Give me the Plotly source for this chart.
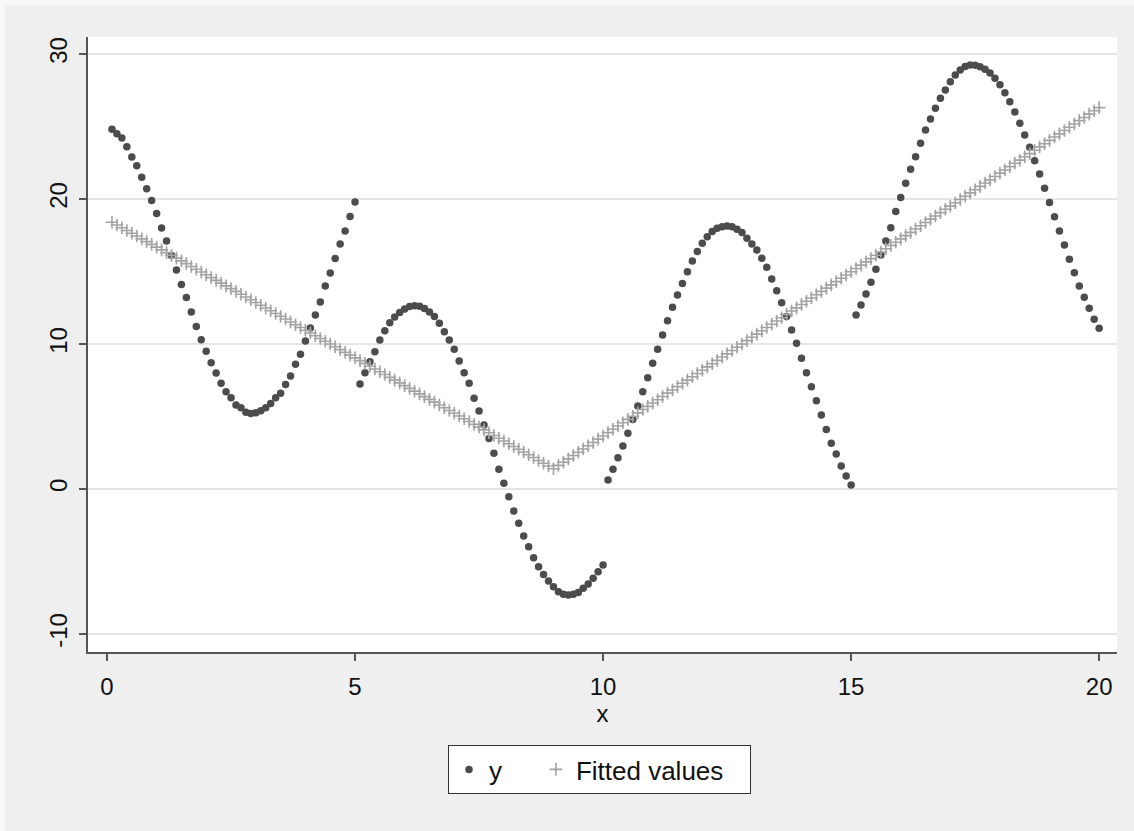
import plotly.graph_objects as go

# ---- data ----
x_values = [
    0.1, 0.2, 0.3, 0.4, 0.5, 0.6, 0.7, 0.8, 0.9, 1.0,
    1.1, 1.2, 1.3, 1.4, 1.5, 1.6, 1.7, 1.8, 1.9, 2.0,
    2.1, 2.2, 2.3, 2.4, 2.5, 2.6, 2.7, 2.8, 2.9, 3.0,
    3.1, 3.2, 3.3, 3.4, 3.5, 3.6, 3.7, 3.8, 3.9, 4.0,
    4.1, 4.2, 4.3, 4.4, 4.5, 4.6, 4.7, 4.8, 4.9, 5.0,
    5.1, 5.2, 5.3, 5.4, 5.5, 5.6, 5.7, 5.8, 5.9, 6.0,
    6.1, 6.2, 6.3, 6.4, 6.5, 6.6, 6.7, 6.8, 6.9, 7.0,
    7.1, 7.2, 7.3, 7.4, 7.5, 7.6, 7.7, 7.8, 7.9, 8.0,
    8.1, 8.2, 8.3, 8.4, 8.5, 8.6, 8.7, 8.8, 8.9, 9.0,
    9.1, 9.2, 9.3, 9.4, 9.5, 9.6, 9.7, 9.8, 9.9, 10.0,
    10.1, 10.2, 10.3, 10.4, 10.5, 10.6, 10.7, 10.8, 10.9, 11.0,
    11.1, 11.2, 11.3, 11.4, 11.5, 11.6, 11.7, 11.8, 11.9, 12.0,
    12.1, 12.2, 12.3, 12.4, 12.5, 12.6, 12.7, 12.8, 12.9, 13.0,
    13.1, 13.2, 13.3, 13.4, 13.5, 13.6, 13.7, 13.8, 13.9, 14.0,
    14.1, 14.2, 14.3, 14.4, 14.5, 14.6, 14.7, 14.8, 14.9, 15.0,
    15.1, 15.2, 15.3, 15.4, 15.5, 15.6, 15.7, 15.8, 15.9, 16.0,
    16.1, 16.2, 16.3, 16.4, 16.5, 16.6, 16.7, 16.8, 16.9, 17.0,
    17.1, 17.2, 17.3, 17.4, 17.5, 17.6, 17.7, 17.8, 17.9, 18.0,
    18.1, 18.2, 18.3, 18.4, 18.5, 18.6, 18.7, 18.8, 18.9, 19.0,
    19.1, 19.2, 19.3, 19.4, 19.5, 19.6, 19.7, 19.8, 19.9, 20.0,
]

y_part1 = [
    24.8, 24.5, 24.2, 23.6, 22.9, 22.3, 21.5, 20.7, 19.9, 19.0,
    18.0, 17.1, 16.1, 15.1, 14.1, 13.2, 12.2, 11.2, 10.3, 9.5,
    8.7, 8.0, 7.3, 6.7, 6.3, 5.8, 5.6, 5.3, 5.2, 5.25,
    5.4, 5.6, 5.9, 6.3, 6.6, 7.2, 7.8, 8.6, 9.3, 10.2,
    11.1, 12.0, 12.9, 14.0, 14.9, 15.9, 16.9, 17.8, 18.8, 19.8,
]
y_part2 = [
    7.24, 8.02, 8.78, 9.47, 10.28, 10.92, 11.47, 11.86, 12.17, 12.42,
    12.58, 12.64, 12.60, 12.45, 12.20, 11.89, 11.43, 10.85, 10.28, 9.63,
    8.83, 8.02, 7.29, 6.25, 5.38, 4.41, 3.49, 2.46, 1.36, 0.39,
    -0.53, -1.52, -2.37, -3.24, -3.98, -4.74, -5.36, -5.89, -6.34, -6.74,
    -7.08, -7.26, -7.31, -7.26, -7.13, -6.85, -6.55, -6.16, -5.70, -5.24,
]
y_part3 = [
    0.62, 1.36, 2.16, 2.97, 3.84, 4.80, 5.72, 6.71, 7.68, 8.67,
    9.63, 10.62, 11.61, 12.53, 13.38, 14.18, 14.99, 15.72, 16.37, 16.94,
    17.40, 17.75, 17.98, 18.09, 18.14, 18.09, 17.91, 17.68, 17.29, 16.90,
    16.48, 15.91, 15.29, 14.48, 13.68, 12.85, 11.89, 10.97, 10.05, 9.01,
    8.02, 7.06, 6.09, 5.10, 4.11, 3.15, 2.41, 1.59, 0.90, 0.28,
]
y_part4 = [
    12.00, 12.69, 13.45, 14.25, 15.15, 16.14, 17.10, 18.02, 19.13, 20.11,
    21.08, 22.05, 22.92, 23.84, 24.76, 25.52, 26.25, 26.94, 27.52, 28.09,
    28.55, 28.90, 29.13, 29.24, 29.22, 29.12, 28.95, 28.68, 28.32, 27.88,
    27.33, 26.70, 26.00, 25.22, 24.41, 23.56, 22.64, 21.72, 20.74, 19.75,
    18.78, 17.79, 16.83, 15.84, 14.92, 14.00, 13.22, 12.46, 11.70, 11.08,
]

fitted_values = [
    18.40, 18.21, 18.02, 17.83, 17.64, 17.45, 17.25, 17.06, 16.87, 16.68,
    16.49, 16.30, 16.11, 15.92, 15.73, 15.54, 15.34, 15.15, 14.96, 14.77,
    14.58, 14.39, 14.20, 14.01, 13.82, 13.63, 13.43, 13.24, 13.05, 12.86,
    12.67, 12.48, 12.29, 12.10, 11.91, 11.72, 11.52, 11.33, 11.14, 10.95,
    10.76, 10.57, 10.38, 10.19, 10.00, 9.81, 9.61, 9.42, 9.23, 9.04,
    8.85, 8.66, 8.47, 8.28, 8.09, 7.90, 7.70, 7.51, 7.32, 7.13,
    6.94, 6.75, 6.56, 6.37, 6.18, 5.99, 5.79, 5.60, 5.41, 5.22,
    5.03, 4.84, 4.65, 4.46, 4.27, 4.08, 3.88, 3.69, 3.50, 3.31,
    3.12, 2.93, 2.74, 2.55, 2.36, 2.17, 1.97, 1.78, 1.59, 1.40,
    1.63, 1.85, 2.08, 2.31, 2.53, 2.76, 2.98, 3.21, 3.44, 3.66,
    3.89, 4.12, 4.34, 4.57, 4.80, 5.02, 5.25, 5.48, 5.70, 5.93,
    6.15, 6.38, 6.61, 6.83, 7.06, 7.29, 7.51, 7.74, 7.97, 8.19,
    8.42, 8.64, 8.87, 9.10, 9.32, 9.55, 9.78, 10.00, 10.23, 10.46,
    10.68, 10.91, 11.14, 11.36, 11.59, 11.81, 12.04, 12.27, 12.49, 12.72,
    12.95, 13.17, 13.40, 13.63, 13.85, 14.08, 14.30, 14.53, 14.76, 14.98,
    15.21, 15.44, 15.66, 15.89, 16.12, 16.34, 16.57, 16.80, 17.02, 17.25,
    17.47, 17.70, 17.93, 18.15, 18.38, 18.61, 18.83, 19.06, 19.29, 19.51,
    19.74, 19.96, 20.19, 20.42, 20.64, 20.87, 21.10, 21.32, 21.55, 21.78,
    22.00, 22.23, 22.46, 22.68, 22.91, 23.13, 23.36, 23.59, 23.81, 24.04,
    24.27, 24.49, 24.72, 24.95, 25.17, 25.40, 25.62, 25.85, 26.08, 26.30,
]

x_ticks = [0, 5, 10, 15, 20]
y_ticks = [-10, 0, 10, 20, 30]
y_tick_labels = ["-10", "0", "10", "20", "30"]
series_names = ["y", "Fitted values"]

y_values = y_part1 + y_part2 + y_part3 + y_part4

FONT = "Liberation Sans, Arial, sans-serif"
AXIS_COL = "#555555"
NB = "\u00a0"

fig = go.Figure()
fig.add_trace(go.Scatter(
    x=x_values, y=y_values, mode="markers", name=series_names[0] + NB * 4,
    marker=dict(symbol="circle", size=7.5, color="#4c4c4c"),
))
fig.add_trace(go.Scatter(
    x=x_values, y=fitted_values, mode="markers", name=series_names[1] + NB * 3,
    marker=dict(symbol="cross-thin", size=9, color="#a3a3a3",
                line=dict(color="#a3a3a3", width=1.6)),
))

W, H = 1134, 831
L, R, T, B = 88, 17, 37, 179
pw, ph = W - L - R, H - T - B

def px_x(p):
    return (p - L) / pw

def px_y(p):
    return (H - B - p) / ph

fig.update_layout(
    width=W, height=H,
    margin=dict(l=L, r=R, t=T, b=B),
    paper_bgcolor="#efefef",
    plot_bgcolor="#ffffff",
    font=dict(family=FONT, size=24, color="#111111"),
    showlegend=True,
    legend=dict(
        orientation="h", x=px_x(448), xanchor="left", y=px_y(745), yanchor="top",
        bgcolor="#ffffff", bordercolor="#333333", borderwidth=1,
        font=dict(family=FONT, size=26, color="#111111"),
        itemsizing="trace", traceorder="normal",
    ),
    xaxis=dict(
        range=[-0.383, 20.36], tickmode="array", tickvals=x_ticks,
        showgrid=False, zeroline=False,
        showline=True, linecolor=AXIS_COL, linewidth=1.5,
        ticks="outside", ticklen=7, tickwidth=1.5, tickcolor=AXIS_COL,
        ticklabelstandoff=5,
        tickfont=dict(family=FONT, size=24, color="#111111"),
        title=dict(text="x", font=dict(family=FONT, size=24, color="#111111"), standoff=6),
    ),
    yaxis=dict(
        range=[-11.24, 31.17], tickmode="array", tickvals=y_ticks,
        ticktext=y_tick_labels,
        showgrid=True, gridcolor="#e6e6e6", gridwidth=2,
        zeroline=False,
        showline=True, linecolor=AXIS_COL, linewidth=1.5,
        ticks="outside", ticklen=7, tickwidth=1.5, tickcolor=AXIS_COL,
        tickangle=-90, ticklabelstandoff=3,
        tickfont=dict(family=FONT, size=24, color="#111111"),
    ),
    shapes=[
        dict(type="rect", xref="paper", yref="paper", layer="below",
             x0=px_x(0), x1=px_x(5), y0=px_y(H), y1=px_y(0),
             fillcolor="#f8f8f8", line=dict(width=0)),
        dict(type="rect", xref="paper", yref="paper", layer="below",
             x0=px_x(0), x1=px_x(W), y0=px_y(5), y1=px_y(0),
             fillcolor="#f8f8f8", line=dict(width=0)),
    ],
)

fig.write_html("out.html", config={"displayModeBar": False},
               post_script="document.body.style.margin='0px';")
